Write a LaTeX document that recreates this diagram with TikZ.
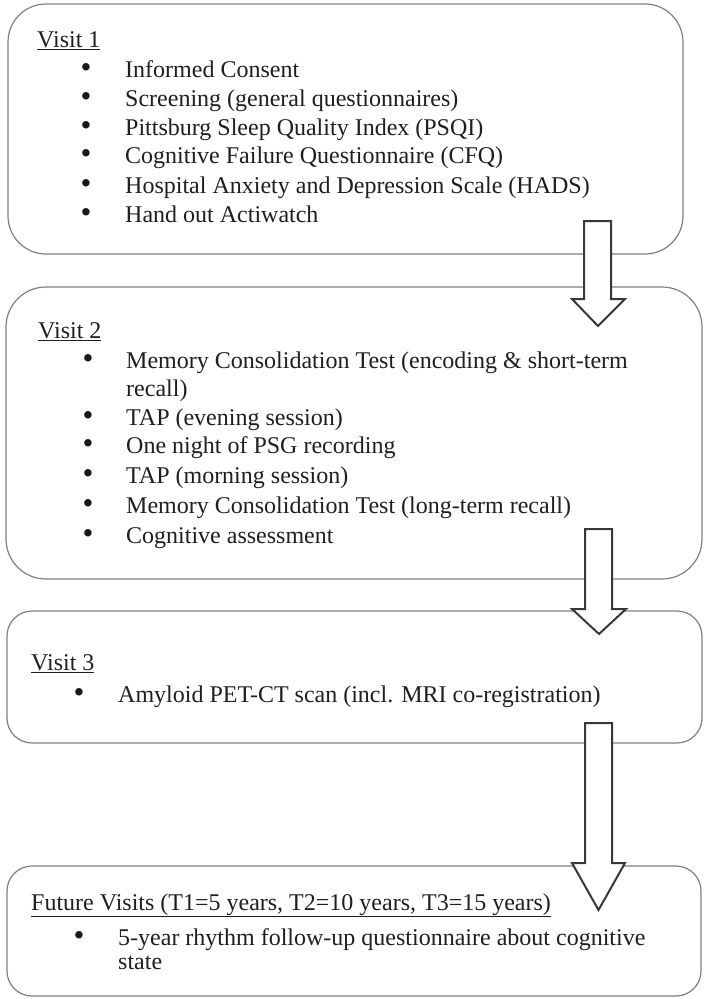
\documentclass[tikz,border=0pt]{standalone}
\usepackage{fontspec}
\setmainfont{Liberation Serif}
\begin{document}
\begin{tikzpicture}[x=1pt,y=-1pt,
  visitbox/.style={draw=black!50,line width=1.2pt,fill=white},
  blockarrow/.style={draw=black!78,line width=2pt,fill=white,line join=miter},
  txt/.style={anchor=base west,inner sep=0pt,font=\fontsize{24}{28}\selectfont,text=black!88},
  bul/.style={anchor=center,inner sep=0pt,yshift=6pt,font=\fontsize{31}{34}\selectfont,text=black!90}]
\useasboundingbox (0,0) rectangle (708,999);
% boxes
\draw[visitbox,rounded corners=38pt] (8,4) rectangle (683,254);
\draw[visitbox,rounded corners=40pt] (6,287) rectangle (702,579);
\draw[visitbox,rounded corners=25pt] (7,611) rectangle (702,743);
\draw[visitbox,rounded corners=25pt] (7,866) rectangle (701,996);
% arrows
\draw[blockarrow] (584,221) -- (611,221) -- (611,299) -- (625,299) -- (598,326) -- (572,299) -- (584,299) -- cycle;
\draw[blockarrow] (585,529) -- (612,529) -- (612,609) -- (626,609) -- (599,634) -- (572,609) -- (585,609) -- cycle;
\draw[blockarrow] (585,723) -- (612,723) -- (612,863) -- (625,863) -- (598.5,910) -- (572,863) -- (585,863) -- cycle;
% Visit 1
\node[txt] (h1) at (37,47) {\underline{Visit 1}};
\foreach \y/\t [count=\i] in {77/Informed Consent,106/Screening (general questionnaires),135/Pittsburg Sleep Quality Index (PSQI),163/Cognitive Failure Questionnaire (CFQ),193/Hospital Anxiety and Depression Scale (HADS),222/Hand out Actiwatch}{
  \node[bul] (b1\i) at (86,\y) {\textbullet};
  \node[txt] (t1\i) at (125,\y) {\t};
}
% Visit 2
\node[txt] (h2) at (38,338) {\underline{Visit 2}};
\foreach \y/\t [count=\i] in {368/Memory Consolidation Test (encoding \& short-term,425/TAP (evening session),453/One night of PSG recording,483/TAP (morning session),513/Memory Consolidation Test (long-term recall),543/Cognitive assessment}{
  \node[bul] (b2\i) at (88,\y) {\textbullet};
  \node[txt] (t2\i) at (126,\y) {\t};
}
\node[txt] (t2x) at (126,396) {recall)};
% Visit 3
\node[txt] (h3) at (31,670) {\underline{Visit 3}};
\node[bul] (b31) at (79,702) {\textbullet};
\node[txt] (t31) at (118,702) {Amyloid PET-CT scan (incl. MRI co-registration)};
% Future
\node[txt] (h4) at (31,910) {\underline{Future Visits (T1=5 years, T2=10 years, T3=15 years)}};
\node[bul] (b41) at (79,945) {\textbullet};
\node[txt] (t41) at (118,945) {5-year rhythm follow-up questionnaire about cognitive};
\node[txt] (t42) at (118,969) {state};
\end{tikzpicture}
\end{document}
